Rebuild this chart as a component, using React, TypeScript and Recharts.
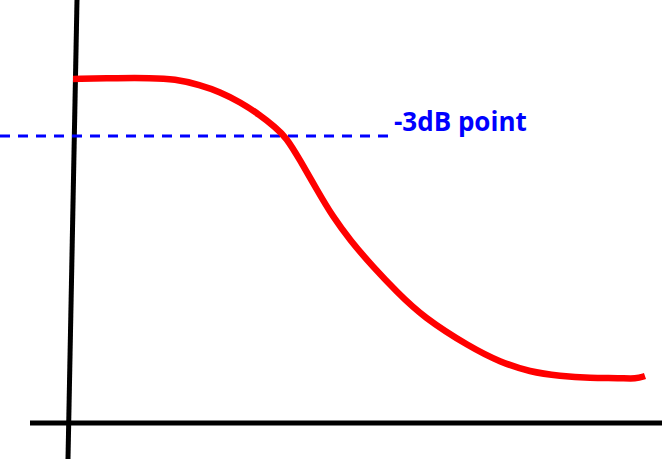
import { LineChart, Line, XAxis, YAxis, ReferenceLine, ReferenceDot } from 'recharts';

// response curve (x, y in picture units, y grows downward)
const curveX = [73, 120, 150, 175, 200, 220, 240, 260, 275, 286, 300, 317, 333, 350, 373, 397, 423, 470, 500, 530, 560, 590, 620, 636, 645];
const curveY = [79, 78, 78, 79, 85, 92, 102, 115, 127, 137, 160, 190, 217, 240, 267, 292, 317, 347, 362, 372, 376, 378, 378, 379, 376];

const cutoffY = 136;
const cutoffLabel = '-3dB point';

const data = curveX.map((x, i) => ({ x, y: curveY[i] }));

const CutoffText = (props: any) => {
    const { viewBox } = props;
    return (
        <text
            x={viewBox.x}
            y={viewBox.y}
            fill="#0000ff"
            fontFamily="'Open Sans', sans-serif"
            fontWeight={700}
            fontSize={26}
        >
            {cutoffLabel}
        </text>
    );
};

export default function App() {
    return (
        <div style={{ position: 'absolute', left: 0, top: 0, background: '#fff' }}>
            <LineChart width={662} height={459} data={data} margin={{ top: 0, right: 0, bottom: 0, left: 0 }}>
                <XAxis dataKey="x" type="number" domain={[0, 662]} hide />
                <YAxis type="number" domain={[0, 459]} reversed hide />
                {/* axes, drawn by hand */}
                <ReferenceLine segment={[{ x: 77, y: 0 }, { x: 68, y: 459 }]} stroke="#000" strokeWidth={5} ifOverflow="visible" />
                <ReferenceLine segment={[{ x: 30, y: 423 }, { x: 662, y: 423 }]} stroke="#000" strokeWidth={5} ifOverflow="visible" />
                <ReferenceLine
                    segment={[{ x: 0, y: cutoffY }, { x: 390, y: cutoffY }]}
                    stroke="#0000ff"
                    strokeWidth={3}
                    strokeDasharray="10 8"
                    ifOverflow="visible"
                />
                <Line
                    dataKey="y"
                    type="basis"
                    stroke="#ff0000"
                    strokeWidth={6.5}
                    dot={false}
                    activeDot={false}
                    isAnimationActive={false}
                />
                <ReferenceDot
                    x={394}
                    y={131}
                    r={0}
                    fill="none"
                    stroke="none"
                    label={<CutoffText />}
                    ifOverflow="visible"
                />
            </LineChart>
        </div>
    );
}
